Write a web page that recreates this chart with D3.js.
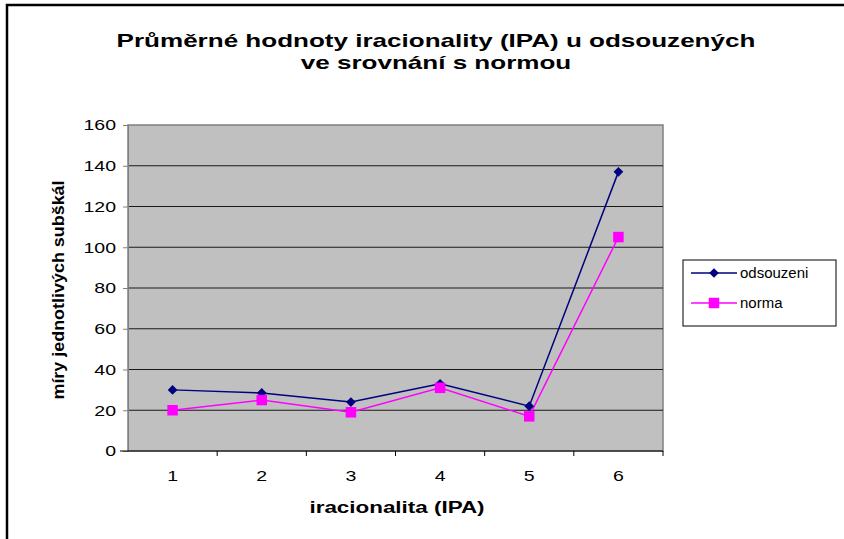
<!DOCTYPE html>
<html>
<head>
<meta charset="utf-8">
<script src="https://cdn.jsdelivr.net/npm/d3@7"></script>
<style>
  body { margin: 0; background: #fff; }
  svg { font-family: "Liberation Sans", Arial, sans-serif; }
</style>
</head>
<body>
<svg id="chart" width="844" height="539"></svg>
<script>
// data
var categories = ["1", "2", "3", "4", "5", "6"];
var odsouzeni = [30, 28.5, 24, 33, 22, 137];
var norma = [20, 25, 19, 31, 17, 105];
var yTicks = [0, 20, 40, 60, 80, 100, 120, 140, 160];
var seriesNames = ["odsouzeni", "norma"];

var svg = d3.select("#chart");

var margin = {top: 125, left: 128, right: 181, bottom: 88},
    width = 844 - margin.left - margin.right,
    height = 539 - margin.top - margin.bottom;

// the original picture is stretched sideways, so widen text to match
function stretch(sel, k) {
    sel.each(function() {
        var len = this.getComputedTextLength();
        d3.select(this)
            .attr("textLength", len * k)
            .attr("lengthAdjust", "spacingAndGlyphs");
    });
}

// outer frame (only left and top edge are visible)
svg.append("path")
    .attr("d", "M7,539V5H844")
    .attr("fill", "none")
    .attr("stroke", "#000")
    .attr("stroke-width", 2.5);

var g = svg.append("g")
    .attr("transform", "translate(" + margin.left + "," + margin.top + ")");

var x = d3.scaleBand().domain(categories).range([0, width]);
var y = d3.scaleLinear().domain([0, 160]).range([height, 0]);

// plot area
g.append("rect")
    .attr("width", width)
    .attr("height", height)
    .attr("fill", "#c0c0c0")
    .attr("stroke", "#808080")
    .attr("stroke-width", 1.5);

// grid lines
g.selectAll(".grid")
    .data(yTicks.filter(function(d) { return d > 0 && d < 160; }))
    .enter().append("line")
    .attr("x1", 0).attr("x2", width)
    .attr("y1", function(d) { return y(d); })
    .attr("y2", function(d) { return y(d); })
    .attr("stroke", "#1a1a1a")
    .attr("stroke-width", 1);

// y axis
var yAxis = g.append("g")
    .call(d3.axisLeft(y).tickValues(yTicks).tickSize(5).tickPadding(7));
yAxis.select(".domain").attr("stroke", "#808080");
yAxis.selectAll(".tick line").attr("stroke", "#808080");
yAxis.selectAll("text").attr("font-size", 15).attr("fill", "#000")
    .attr("font-family", "Liberation Sans, Arial, sans-serif")
    .call(stretch, 1.3);

// x axis: ticks between categories
var xAxis = g.append("g")
    .attr("transform", "translate(0," + height + ")");
xAxis.append("line")
    .attr("x1", -8).attr("x2", width)
    .attr("stroke", "#000").attr("stroke-width", 1.2);
xAxis.selectAll(".xt")
    .data(d3.range(1, categories.length + 1))
    .enter().append("line")
    .attr("x1", function(i) { return i * x.bandwidth(); })
    .attr("x2", function(i) { return i * x.bandwidth(); })
    .attr("y1", 0).attr("y2", 5)
    .attr("stroke", "#000");
xAxis.selectAll(".xl")
    .data(categories)
    .enter().append("text")
    .attr("x", function(d) { return x(d) + x.bandwidth() / 2; })
    .attr("y", 30)
    .attr("text-anchor", "middle")
    .attr("font-size", 15)
    .text(function(d) { return d; })
    .call(stretch, 1.3);

var cx = function(d, i) { return x(categories[i]) + x.bandwidth() / 2; };

var line = d3.line()
    .x(cx)
    .y(function(d) { return y(d); });

var colors = ["#000080", "#ff00ff"];
var series = [odsouzeni, norma];

series.forEach(function(s, k) {
    g.append("path")
        .datum(s)
        .attr("fill", "none")
        .attr("stroke", colors[k])
        .attr("stroke-width", 1.5)
        .attr("d", line);
});

var diamond = d3.symbol().type(d3.symbolDiamond2).size(60);
var square = d3.symbol().type(d3.symbolSquare).size(110);

g.selectAll(".m0")
    .data(odsouzeni)
    .enter().append("path")
    .attr("transform", function(d, i) { return "translate(" + cx(d, i) + "," + y(d) + ")"; })
    .attr("d", diamond)
    .attr("fill", colors[0]);

g.selectAll(".m1")
    .data(norma)
    .enter().append("path")
    .attr("transform", function(d, i) { return "translate(" + cx(d, i) + "," + y(d) + ")"; })
    .attr("d", square)
    .attr("fill", colors[1]);

// titles
svg.append("text")
    .attr("x", 436).attr("y", 47)
    .attr("text-anchor", "middle")
    .attr("font-size", 19).attr("font-weight", "bold")
    .text("Průměrné hodnoty iracionality (IPA) u odsouzených")
    .call(stretch, 1.37);
svg.append("text")
    .attr("x", 436).attr("y", 69)
    .attr("text-anchor", "middle")
    .attr("font-size", 19).attr("font-weight", "bold")
    .text("ve srovnání s normou")
    .call(stretch, 1.37);

svg.append("text")
    .attr("x", 397).attr("y", 513)
    .attr("text-anchor", "middle")
    .attr("font-size", 16).attr("font-weight", "bold")
    .text("iracionalita (IPA)")
    .call(stretch, 1.4);

svg.append("text")
    .attr("transform", "translate(64,290) rotate(-90)")
    .attr("text-anchor", "middle")
    .attr("font-size", 16).attr("font-weight", "bold")
    .text("míry jednotlivých subškál")
    .call(stretch, 1.12);

// legend
var lg = svg.append("g").attr("transform", "translate(683,260)");
lg.append("rect")
    .attr("width", 153).attr("height", 66)
    .attr("fill", "#fff").attr("stroke", "#000").attr("stroke-width", 1);
seriesNames.forEach(function(name, k) {
    var ly = 13 + k * 30;
    lg.append("line")
        .attr("x1", 8).attr("x2", 54)
        .attr("y1", ly).attr("y2", ly)
        .attr("stroke", colors[k]).attr("stroke-width", 1.5);
    lg.append("path")
        .attr("transform", "translate(31," + ly + ")")
        .attr("d", k === 0 ? diamond : square)
        .attr("fill", colors[k]);
    lg.append("text")
        .attr("x", 57).attr("y", ly + 5)
        .attr("font-size", 14)
        .text(name)
        .call(stretch, 1.07);
});
</script>
</body>
</html>
